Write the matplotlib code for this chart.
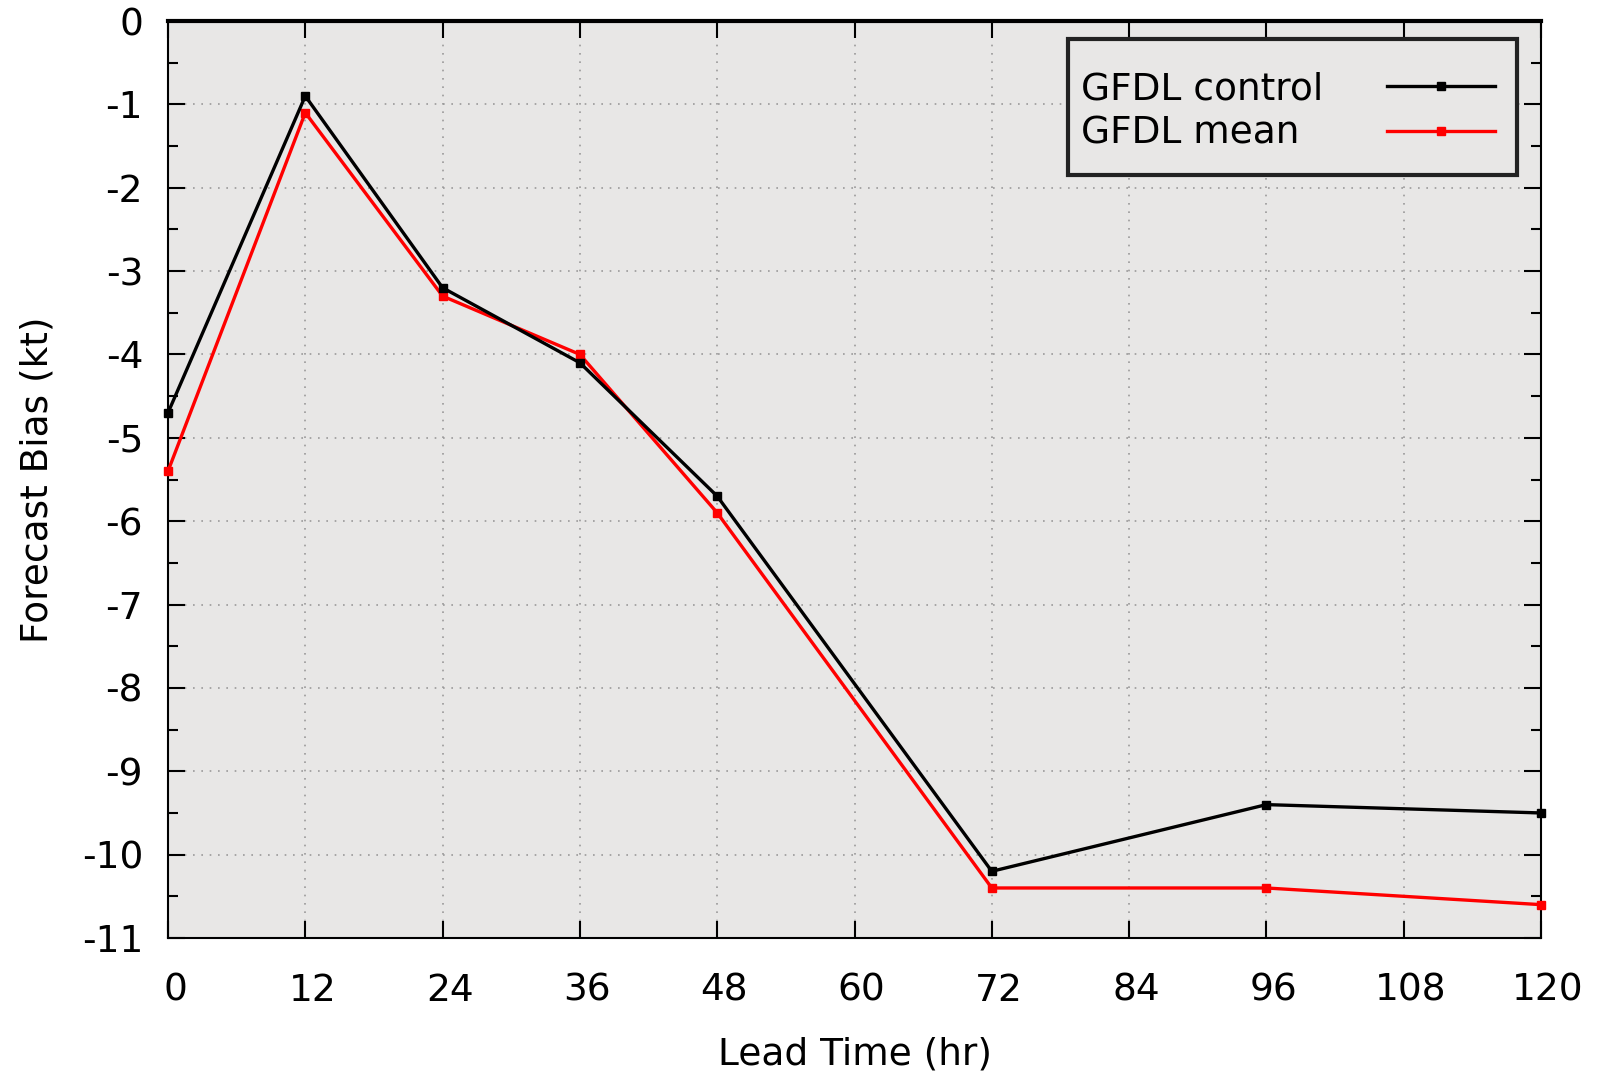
import numpy as np
import matplotlib
matplotlib.use('Agg')
import matplotlib.pyplot as plt
from matplotlib.ticker import MultipleLocator
from matplotlib.transforms import ScaledTranslation
from matplotlib.patches import Rectangle

lead_hours = [0, 12, 24, 36, 48, 72, 96, 120]
gfdl_control = [-4.7, -0.9, -3.2, -4.1, -5.7, -10.2, -9.4, -9.5]
gfdl_mean = [-5.4, -1.1, -3.3, -4.0, -5.9, -10.4, -10.4, -10.6]
x_ticks = [0, 12, 24, 36, 48, 60, 72, 84, 96, 108, 120]
y_ticks = list(range(0, -12, -1))
labels = ['GFDL control', 'GFDL mean']

plt.rcParams['font.family'] = ['DejaVu Sans']
fs = 27
W, H = 1599, 1073

fig = plt.figure(figsize=(W / 100, H / 100), dpi=100)
ax = fig.add_axes([168 / W, 1 - 938 / H, (1541 - 168) / W, (938 - 21) / H])
ax.set_facecolor('#e8e7e6')

# gnuplot keeps the key text left aligned, so pad the shorter label with spaces
renderer = fig.canvas.get_renderer()
def text_width(s):
    t = fig.text(0, 0, s, fontsize=fs)
    w = t.get_window_extent(renderer).width
    t.remove()
    return w
w_max = max(text_width(s) for s in labels)
padded = []
for s in labels:
    while text_width(s + ' ') <= w_max + 2:
        s += ' '
    padded.append(s)

ax.plot(lead_hours, gfdl_control, color='black', lw=2.4, marker='s', ms=6,
        label=padded[0], clip_on=False, zorder=4)
ax.plot(lead_hours, gfdl_mean, color='#ff0000', lw=2.4, marker='s', ms=6,
        label=padded[1], clip_on=False, zorder=3)

ax.set_xlim(0, 120)
ax.set_ylim(-11, 0)
ax.set_xticks(x_ticks)
ax.set_yticks(y_ticks)
ax.set_yticklabels([str(v) for v in y_ticks])
ax.yaxis.set_minor_locator(MultipleLocator(0.5))

ax.grid(True, which='major', color='#9a9a9a', linestyle=(0, (1, 4)), lw=1.2)
ax.tick_params(which='major', direction='in', length=12, width=1.5, labelsize=fs,
               top=True, right=True, pad=18)
ax.tick_params(which='minor', direction='in', length=7, width=1.5, left=True, right=True)
ax.tick_params(axis='x', pad=25)
shift = ScaledTranslation(7 / 100, 0, fig.dpi_scale_trans)
for lbl in ax.get_xticklabels():
    lbl.set_transform(lbl.get_transform() + shift)

for side in ['left', 'right', 'bottom']:
    ax.spines[side].set_linewidth(1.5)
ax.spines['top'].set_linewidth(3)

ax.set_xlabel('Lead Time (hr)', fontsize=fs, labelpad=20)
ax.set_ylabel('Forecast Bias (kt)', fontsize=fs, labelpad=19)

# key box drawn separately so the padding can match gnuplot's
key_box = Rectangle((1068 / W, 1 - 175 / H), (1517 - 1068) / W, (175 - 39) / H,
                    transform=fig.transFigure, facecolor='#e8e7e6', edgecolor='#222222',
                    lw=3, zorder=5)
ax.add_artist(key_box)
leg = ax.legend(loc='upper left', bbox_to_anchor=(1081 / W, 1 - 71 / H),
                bbox_transform=fig.transFigure, fontsize=fs, markerfirst=False,
                frameon=False, handlelength=2.88, borderpad=0, labelspacing=0.24,
                handletextpad=1.71, borderaxespad=0)
leg.set_zorder(6)

fig.savefig('out.png', dpi=100, facecolor='white')
